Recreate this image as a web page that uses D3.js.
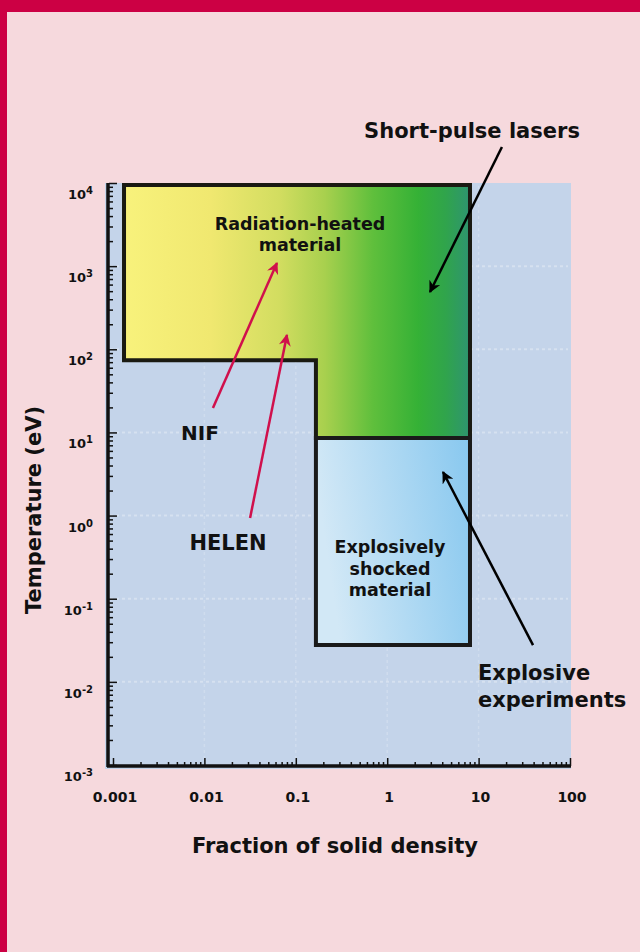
<!DOCTYPE html>
<html>
<head>
<meta charset="utf-8">
<style>
    body { margin: 0; background: #f6d9dd; }
    text { font-family: "DejaVu Sans", sans-serif; font-weight: bold; fill: #111; }
</style>
<script src="https://cdn.jsdelivr.net/npm/d3@7"></script>
</head>
<body>
<div id="chart"></div>
<script>

    // decades on each axis
    var xTicks = [0.001, 0.01, 0.1, 1, 10, 100];
    var xTickLabels = ["0.001", "0.01", "0.1", "1", "10", "100"];
    var yExponents = [-3, -2, -1, 0, 1, 2, 3, 4];

    // regions, in (density fraction, eV)
    var radiationRegion = [[0.00132, 9470], [8.05, 9470], [8.05, 8.6], [0.166, 8.6], [0.166, 74], [0.00132, 74]];
    var shockedRegion = [[0.166, 8.6], [8.05, 8.6], [8.05, 0.0277], [0.166, 0.0277]];

    // arrows: from -> to, in data coords
    var arrows = [
        { name: "Short-pulse lasers", from: [18.0, 27100], to: [2.94, 489], color: "black" },
        { name: "NIF", from: [0.0124, 19.7], to: [0.0622, 1090], color: "red" },
        { name: "HELEN", from: [0.0316, 0.935], to: [0.080, 149], color: "red" },
        { name: "Explosive experiments", from: [39.4, 0.0277], to: [4.08, 3.34], color: "black" }
    ];

    var W = 640, H = 952;
    var svg = d3.select("#chart").append("svg")
        .attr("width", W)
        .attr("height", H);

    svg.append("rect").attr("width", W).attr("height", H).attr("fill", "#f6d9dd");
    svg.append("rect").attr("width", W).attr("height", 12).attr("fill", "#cc0044");
    svg.append("rect").attr("width", 7).attr("height", H).attr("fill", "#cc0044");

    var x = d3.scaleLog().domain([0.001, 100]).range([113, 570]);
    var y = d3.scaleLog().domain([0.001, 10000]).range([765, 183]);

    var defs = svg.append("defs");
    var g1 = defs.append("linearGradient").attr("id", "radGrad")
        .attr("gradientUnits", "userSpaceOnUse")
        .attr("x1", x(0.00132)).attr("x2", x(8.05)).attr("y1", 0).attr("y2", 0);
    [[0, "#f8f27c"], [0.25, "#f0e870"], [0.45, "#d2dd60"], [0.58, "#a8d04e"], [0.72, "#5fbf3c"],
     [0.85, "#35b136"], [0.93, "#30a44c"], [1, "#2e9470"]].forEach(function (s) {
        g1.append("stop").attr("offset", s[0]).attr("stop-color", s[1]);
    });
    var g2 = defs.append("linearGradient").attr("id", "shockGrad")
        .attr("x1", 0).attr("x2", 1).attr("y1", 0.2).attr("y2", 0);
    g2.append("stop").attr("offset", 0).attr("stop-color", "#d2e8f6");
    g2.append("stop").attr("offset", 1).attr("stop-color", "#88c8ef");

    ["black", "red"].forEach(function (c) {
        defs.append("marker").attr("id", "head-" + c)
            .attr("viewBox", "0 0 10 10").attr("refX", 9).attr("refY", 5)
            .attr("markerUnits", "userSpaceOnUse")
            .attr("markerWidth", 16).attr("markerHeight", 12)
            .attr("orient", "auto")
            .append("path").attr("d", "M0,0 L10,5 L0,10 L3,5 Z")
            .attr("fill", c == "red" ? "#d0104c" : "#000");
    });

    // plot background
    svg.append("rect")
        .attr("x", 105).attr("y", 183)
        .attr("width", 466).attr("height", 586)
        .attr("fill", "#c4d4ea");

    // faint dotted grid
    svg.append("g").selectAll("line.h")
        .data(yExponents.slice(1, -1))
        .enter().append("line")
        .attr("x1", 110).attr("x2", 568)
        .attr("y1", function (d) { return y(Math.pow(10, d)); })
        .attr("y2", function (d) { return y(Math.pow(10, d)); })
        .attr("stroke", "#fff").attr("stroke-opacity", 0.3)
        .attr("stroke-width", 2).attr("stroke-dasharray", "3,3");
    svg.append("g").selectAll("line.v")
        .data(xTicks.slice(1, -1))
        .enter().append("line")
        .attr("x1", function (d) { return x(d); })
        .attr("x2", function (d) { return x(d); })
        .attr("y1", 186).attr("y2", 762)
        .attr("stroke", "#fff").attr("stroke-opacity", 0.2)
        .attr("stroke-width", 1.5).attr("stroke-dasharray", "3,3");

    var line = d3.line()
        .x(function (d) { return x(d[0]); })
        .y(function (d) { return y(d[1]); });

    svg.append("path")
        .attr("d", line(radiationRegion) + "Z")
        .attr("fill", "url(#radGrad)")
        .attr("stroke", "#1a1a12").attr("stroke-width", 4)
        .attr("stroke-linejoin", "miter");

    svg.append("path")
        .attr("d", line(shockedRegion) + "Z")
        .attr("fill", "url(#shockGrad)")
        .attr("stroke", "#1a1a1a").attr("stroke-width", 4);

    // axes: minor ticks then majors, pointing inward
    var minorX = [], minorY = [];
    for (var e = -3; e < 4; e++) {
        for (var k = 2; k < 10; k++) {
            if (e < 2) minorX.push(k * Math.pow(10, e));
            minorY.push(k * Math.pow(10, e));
        }
    }

    var xAxisG = svg.append("g").attr("transform", "translate(0,766)");
    xAxisG.call(d3.axisBottom(x).tickValues(minorX).tickSize(-4).tickFormat(""));
    xAxisG.append("g").call(d3.axisBottom(x).tickValues(xTicks).tickSize(-8).tickFormat(""));
    xAxisG.selectAll(".domain").remove();
    xAxisG.selectAll("line").attr("stroke", "#111").attr("stroke-width", 1.5);

    var yAxisG = svg.append("g").attr("transform", "translate(109,0)");
    yAxisG.call(d3.axisLeft(y).tickValues(minorY).tickSize(-4).tickFormat(""));
    yAxisG.append("g").call(d3.axisLeft(y).tickValues(yExponents.map(function (d) { return Math.pow(10, d); }))
        .tickSize(-8).tickFormat(""));
    yAxisG.selectAll(".domain").remove();
    yAxisG.selectAll("line").attr("stroke", "#111").attr("stroke-width", 1.5);

    // axis lines
    svg.append("line").attr("x1", 108).attr("x2", 108).attr("y1", 183).attr("y2", 767)
        .attr("stroke", "#111").attr("stroke-width", 3.5);
    svg.append("line").attr("x1", 107).attr("x2", 571).attr("y1", 766).attr("y2", 766)
        .attr("stroke", "#111").attr("stroke-width", 3.5);

    // tick labels
    svg.append("g").selectAll("text")
        .data(xTicks)
        .enter().append("text")
        .attr("x", function (d) { return x(d) + 2; })
        .attr("y", 802)
        .attr("text-anchor", "middle")
        .style("font-size", "14px")
        .text(function (d, i) { return xTickLabels[i]; });

    var yl = svg.append("g").selectAll("text")
        .data(yExponents)
        .enter().append("text")
        .attr("x", 93)
        .attr("y", function (d) { return y(Math.pow(10, d)) + 16; })
        .attr("text-anchor", "end")
        .style("font-size", "13px");
    yl.append("tspan").text("10");
    yl.append("tspan").attr("dy", -5).style("font-size", "10px").text(function (d) { return d; });

    // arrows
    svg.append("g").selectAll("line")
        .data(arrows)
        .enter().append("line")
        .attr("x1", function (d) { return x(d.from[0]); })
        .attr("y1", function (d) { return y(d.from[1]); })
        .attr("x2", function (d) { return x(d.to[0]); })
        .attr("y2", function (d) { return y(d.to[1]); })
        .attr("stroke", function (d) { return d.color == "red" ? "#d0104c" : "#000"; })
        .attr("stroke-width", 2.5)
        .attr("marker-end", function (d) { return "url(#head-" + d.color + ")"; });

    function label(lines, cx, by, size, anchor, lh) {
        var t = svg.append("text")
            .attr("x", cx).attr("y", by)
            .attr("text-anchor", anchor || "middle")
            .style("font-size", size + "px");
        lines.forEach(function (s, i) {
            t.append("tspan").attr("x", cx).attr("dy", i == 0 ? 0 : lh).text(s);
        });
    }

    label(["Short-pulse lasers"], 472, 138, 21);
    label(["Radiation-heated", "material"], 300, 230, 17.5, "middle", 21);
    label(["NIF"], 200, 440, 20);
    label(["HELEN"], 228, 550, 21);
    label(["Explosively", "shocked", "material"], 390, 553, 17.5, "middle", 21.5);
    label(["Explosive", "experiments"], 478, 680, 21, "start", 27);

    // axis titles
    svg.append("text")
        .attr("x", 335).attr("y", 853)
        .attr("text-anchor", "middle")
        .style("font-size", "21px")
        .text("Fraction of solid density");

    svg.append("text")
        .attr("transform", "translate(41,510) rotate(-90)")
        .attr("text-anchor", "middle")
        .style("font-size", "21px")
        .text("Temperature (eV)");

</script>
</body>
</html>
